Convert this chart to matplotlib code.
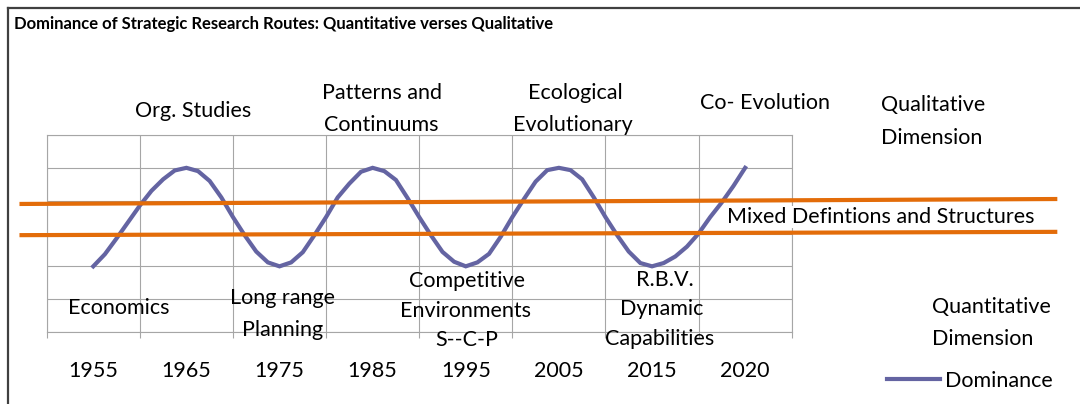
import matplotlib.pyplot as plt
from matplotlib.lines import Line2D
import numpy as np

# ======= DATA =======
years = ["1955", "1965", "1975", "1985", "1995", "2005", "2015", "2020"]

# dominance level, sampled 8 points per category step (0 = bottom of grid, 6 = top)
dominance = [
    2.0, 2.37, 2.85, 3.35, 3.85, 4.3, 4.65, 4.92, 5.0,
    4.9, 4.6, 4.1, 3.5, 2.95, 2.45, 2.12, 2.0,
    2.12, 2.43, 2.95, 3.5, 4.1, 4.52, 4.88, 5.0,
    4.9, 4.63, 4.08, 3.5, 2.95, 2.44, 2.14, 2.0,
    2.12, 2.38, 2.9, 3.5, 4.05, 4.58, 4.93, 5.0,
    4.93, 4.65, 4.1, 3.5, 2.95, 2.45, 2.1, 2.0,
    2.1, 2.3, 2.6, 3.0, 3.5, 3.95, 4.45, 5.0,
]
steps_per_year_label = 8

# the two "mixed" band lines (drawn across the chart, past the plot area)
band_x = [-0.77, 10.33]
band_upper = [3.90, 4.05]
band_lower = [2.95, 3.05]

# ======= STYLE =======
W, H = 1080, 404
font = "Lato"
purple = "#6464A2"
orange = "#E36C09"
grid_col = "#A6A6A6"
fs = 15.5

plt.rcParams['font.family'] = [font, 'DejaVu Sans']

fig = plt.figure(figsize=(W / 100, H / 100), dpi=100)
ax = fig.add_axes([46.7 / W, 1 - 332 / H, (791.7 - 46.7) / W, (332 - 135) / H])

x = np.arange(len(dominance)) / steps_per_year_label
ax.plot(x, dominance, color=purple, lw=3, label="Dominance", zorder=3,
        solid_joinstyle='miter')

ax.plot(band_x, band_upper, color=orange, lw=3, clip_on=False, zorder=4)
ax.plot(band_x, band_lower, color=orange, lw=3, clip_on=False, zorder=4)

ax.set_xlim(-0.5, len(years) - 0.5)
ax.set_ylim(0, 6)
ax.set_xticks(np.arange(len(years) + 1) - 0.5)
ax.set_xticklabels([])
ax.set_xticks(np.arange(len(years)), years, minor=True)
ax.set_yticks(np.arange(0, 7))
ax.set_yticklabels([])
ax.tick_params(axis='x', which='major', direction='out', length=4.5,
               color=grid_col, width=0.8)
ax.tick_params(axis='x', which='minor', length=0, pad=21, labelsize=fs)
ax.tick_params(axis='y', length=0)
ax.grid(True, color=grid_col, lw=0.8)
ax.set_axisbelow(True)
for s in ax.spines.values():
    s.set_color(grid_col)
    s.set_linewidth(0.8)


# ======= TEXT (figure pixel positions) =======
def fx(px):
    return px / W


def fy(py):
    return 1 - py / H


fig.text(fx(14), fy(24), "Dominance of Strategic Research Routes: Quantitative verses Qualitative",
         fontsize=12, fontweight='bold', ha='left', va='center')

centered = [
    ("Org. Studies", 193, 111),
    ("Patterns and", 382, 93),
    ("Continuums", 381, 125),
    ("Ecological", 575, 93),
    ("Evolutionary", 573, 125),
    ("Co- Evolution", 765, 103),
    ("Economics", 119, 308),
    ("Long range", 283, 298),
    ("Planning", 283, 330),
    ("Competitive", 467, 281),
    ("Environments", 466, 311),
    ("S--C-P", 467, 340),
    ("R.B.V.", 665, 280),
    ("Dynamic", 662, 309),
    ("Capabilities", 660, 339),
]
for txt, px, py in centered:
    fig.text(fx(px), fy(py), txt, fontsize=fs, ha='center', va='center')

left_texts = [
    ("Qualitative", 881, 105),
    ("Dimension", 881, 138),
    ("Quantitative", 932, 307),
    ("Dimension", 932, 339),
]
for txt, px, py in left_texts:
    fig.text(fx(px), fy(py), txt, fontsize=fs, ha='left', va='center')

fig.text(fx(727), fy(217), "Mixed Defintions and Structures", fontsize=fs,
         ha='left', va='center', zorder=5,
         bbox=dict(facecolor='white', edgecolor='none', pad=1))

# legend
ax.legend(handles=[Line2D([], [], color=purple, lw=3)], labels=["Dominance"],
          loc='center left', bbox_to_anchor=(fx(887), fy(381)),
          bbox_transform=fig.transFigure, frameon=False, fontsize=fs,
          handlelength=2.45, handletextpad=0.25, borderpad=0, borderaxespad=0)

# outer frame
fig.add_artist(Line2D([fx(8), fx(8)], [fy(8), 0], color="#404040", lw=1.6,
                      transform=fig.transFigure))
fig.add_artist(Line2D([fx(8), 1], [fy(8), fy(8)], color="#404040", lw=1.6,
                      transform=fig.transFigure))

plt.savefig("out.png", dpi=100)
plt.close()
